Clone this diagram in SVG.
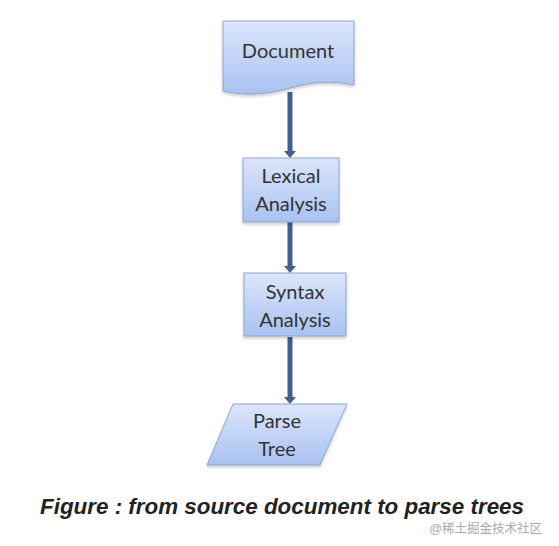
<svg xmlns="http://www.w3.org/2000/svg" width="559" height="546" viewBox="0 0 559 546">
<style>
.shape{fill:url(#g);stroke:#8ea4d0;stroke-width:1}
.lbl{font-family:Lato,"Open Sans","Liberation Sans",sans-serif;font-size:20px;fill:#333;text-anchor:middle}
.conn{stroke:#3f5f91;stroke-width:5;fill:none}
</style>
<defs>
<linearGradient id="g" x1="0" y1="0" x2="0" y2="1">
<stop offset="0" stop-color="#dce6fb"/>
<stop offset="1" stop-color="#a9c1f1"/>
</linearGradient>
<filter id="sh" x="-10%" y="-10%" width="120%" height="130%">
<feDropShadow dx="0" dy="2" stdDeviation="1.5" flood-color="#000" flood-opacity="0.2"/>
</filter>
<marker id="ah" markerWidth="1.4" markerHeight="2.4" refX="0.4" refY="1.2" orient="auto" markerUnits="strokeWidth" viewBox="0 0 1.4 2.4">
<path d="M0,0 L1.4,1.2 L0,2.4 Z" fill="#3f5f91"/>
</marker>
</defs>
<rect width="559" height="546" fill="#fff"/>
<g id="connectors">
<line class="conn" x1="290" y1="92" x2="290" y2="153" marker-end="url(#ah)"/>
<line class="conn" x1="290" y1="222" x2="290" y2="268" marker-end="url(#ah)"/>
<line class="conn" x1="290" y1="337" x2="290" y2="399" marker-end="url(#ah)"/>
</g>
<g id="document">
<path class="shape" filter="url(#sh)" d="M223,21 H354 V85 C330,80 310,82 290,88 C265,95 245,96 223,91 Z"/>
<text class="lbl" x="288" y="58">Document</text>
</g>
<g id="lexical">
<rect class="shape" filter="url(#sh)" x="243" y="158" width="96" height="64"/>
<text class="lbl" x="291" y="183">Lexical</text>
<text class="lbl" x="291" y="211">Analysis</text>
</g>
<g id="syntax">
<rect class="shape" filter="url(#sh)" x="244" y="273" width="102" height="63"/>
<text class="lbl" x="295" y="299">Syntax</text>
<text class="lbl" x="295" y="327">Analysis</text>
</g>
<g id="parsetree">
<path class="shape" filter="url(#sh)" d="M233,404 H347 L320,465 H207 Z"/>
<text class="lbl" x="277" y="428">Parse</text>
<text class="lbl" x="277" y="456">Tree</text>
</g>
<text x="40" y="514" font-family="'Liberation Sans',Arial,sans-serif" font-size="22.4" font-weight="bold" font-style="italic" fill="#222">Figure : from source document to parse trees</text>
<text x="542" y="533" text-anchor="end" font-family="'Liberation Sans','Noto Sans CJK SC',sans-serif" font-size="12.5" fill="#aaa">@稀土掘金技术社区</text>
</svg>
